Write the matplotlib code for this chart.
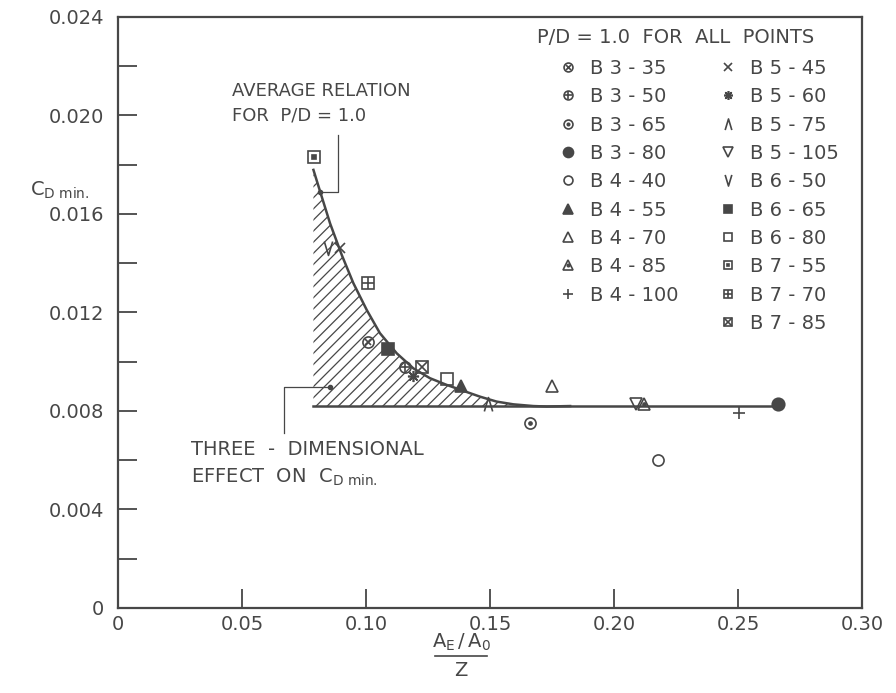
import numpy as np
import matplotlib
matplotlib.use('Agg')
import matplotlib.pyplot as plt
from matplotlib.path import Path
from matplotlib.lines import Line2D

# values (P/D = 1.0 for all points)
labels = ['B 3 - 35', 'B 3 - 50', 'B 3 - 65', 'B 3 - 80', 'B 4 - 40',
          'B 4 - 55', 'B 4 - 70', 'B 4 - 85', 'B 4 - 100',
          'B 5 - 45', 'B 5 - 60', 'B 5 - 75', 'B 5 - 105', 'B 6 - 50',
          'B 6 - 65', 'B 6 - 80', 'B 7 - 55', 'B 7 - 70', 'B 7 - 85']
ae_z = [0.1008, 0.1157, 0.1661, 0.2661, 0.2177,
        0.1383, 0.1750, 0.2121, 0.2504,
        0.0895, 0.1190, 0.1492, 0.2089, 0.0847,
        0.1089, 0.1327, 0.0790, 0.1008, 0.1226]
cd_min = [0.0108, 0.0098, 0.0075, 0.0083, 0.0060,
          0.0090, 0.0090, 0.0083, 0.0079,
          0.0146, 0.0094, 0.0083, 0.0083, 0.0146,
          0.0105, 0.0093, 0.0183, 0.0132, 0.0098]

# average relation curve
curve_x = [0.0788, 0.0815, 0.0855, 0.0902, 0.0949, 0.1003, 0.1056, 0.1124,
           0.1191, 0.1258, 0.1325, 0.1392, 0.1460, 0.1527, 0.1594, 0.1675,
           0.1729, 0.1823]
curve_y = [0.01779, 0.01691, 0.01562, 0.01434, 0.01319, 0.01210, 0.01116,
           0.01034, 0.00973, 0.00933, 0.00906, 0.00882, 0.00858, 0.00838,
           0.00827, 0.00820, 0.00818, 0.00820]
cd_2d = 0.0082
line_end = 0.2661

# leader lines for the two notes
lead_top_x = [0.0815, 0.0887, 0.0887]
lead_top_y = [0.0169, 0.0169, 0.0192]
lead_bot_x = [0.0855, 0.0669, 0.0669]
lead_bot_y = [0.00897, 0.00897, 0.00711]

ink = '#474747'
fs = 14
plt.rcParams['font.family'] = ['DejaVu Sans']
plt.rcParams['hatch.linewidth'] = 0.9

caret = Path([(-0.6, -1.0), (0.0, 1.0), (0.6, -1.0)])
vee = Path([(-0.6, 1.0), (0.0, -1.0), (0.6, 1.0)])
# marker layers: (marker, size, filled)
styles = [
    [('o', 8, False), ('x', 4.5, False)],
    [('o', 8, False), ('+', 8, False)],
    [('o', 8, False), ('o', 2.2, True)],
    [('o', 9, True)],
    [('o', 8, False)],
    [('^', 9, True)],
    [('^', 9, False)],
    [('^', 9, False), ('o', 2.2, True)],
    [('+', 9, False)],
    [('x', 7, False)],
    [((8, 2, 0), 8, False)],
    [(caret, 10, False)],
    [('v', 9, False)],
    [(vee, 10, False)],
    [('s', 8, True)],
    [('s', 8, False)],
    [('s', 8, False), ('s', 2.2, True)],
    [('s', 8, False), ('+', 8, False)],
    [('s', 8, False), ('x', 8, False)],
]

fig = plt.figure(figsize=(8.96, 6.93), dpi=100)
ax = fig.add_axes([0.1317, 0.1227, 0.8304, 0.8528])
ax.set_xlim(0, 0.30)
ax.set_ylim(0, 0.024)

for s in ax.spines.values():
    s.set_color(ink)
    s.set_linewidth(1.6)

ax.set_xticks(np.arange(0, 0.301, 0.05))
ax.set_xticklabels(['0', '0.05', '0.10', '0.15', '0.20', '0.25', '0.30'])
ax.set_yticks(np.arange(0, 0.0241, 0.004))
ax.set_yticklabels(['0', '0.004', '0.008', '0.012', '0.016', '0.020', '0.024'])
ax.set_yticks(np.arange(0.002, 0.024, 0.004), minor=True)
ax.tick_params(which='both', direction='in', length=14, width=1.3, color=ink,
               labelcolor=ink, labelsize=fs, top=False, right=False)
ax.tick_params(axis='x', pad=5)
ax.tick_params(axis='y', pad=10)

# hatched three-dimensional effect region
ax.fill_between(curve_x, cd_2d, curve_y, facecolor='none', edgecolor=ink,
                hatch='///', linewidth=0)
ax.plot(curve_x, curve_y, color=ink, lw=1.8)
ax.plot([curve_x[0], line_end], [cd_2d, cd_2d], color=ink, lw=1.8)

handles = []
for i, lab in enumerate(labels):
    parts = []
    for mk, ms, filled in styles[i]:
        kw = dict(marker=mk, ms=ms, mec=ink, mew=1.2,
                  mfc=ink if filled else 'none', ls='none')
        ax.plot([ae_z[i]], [cd_min[i]], **kw)
        parts.append(Line2D([], [], **kw))
    handles.append(tuple(parts))

# notes with leaders
ax.plot(lead_top_x, lead_top_y, color=ink, lw=0.9)
ax.plot(lead_top_x[:1], lead_top_y[:1], 'o', ms=3, color=ink)
ax.plot(lead_bot_x, lead_bot_y, color=ink, lw=0.9)
ax.plot(lead_bot_x[:1], lead_bot_y[:1], 'o', ms=3, color=ink)
ax.text(0.046, 0.0205, 'AVERAGE RELATION\nFOR  P/D = 1.0', color=ink,
        fontsize=13, ha='left', va='center', linespacing=1.5)
ax.text(0.0294, 0.00642, 'THREE  -  DIMENSIONAL', color=ink, fontsize=fs,
        ha='left', va='center')
ax.text(0.0294, 0.00532, r'EFFECT  ON  $\mathregular{C_{D\ min.}}$', color=ink,
        fontsize=fs, ha='left', va='center')

# legend: header plus two columns
ax.text(0.563, 0.966, 'P/D = 1.0  FOR  ALL  POINTS', transform=ax.transAxes,
        color=ink, fontsize=fs, ha='left', va='center')
blank = Line2D([], [], ls='none')
leg_h = handles[:9] + [blank] + handles[9:]
leg_l = labels[:9] + [''] + labels[9:]
ax.legend(leg_h, leg_l, ncol=2, loc='upper left', bbox_to_anchor=(0.592, 0.929),
          frameon=False, fontsize=fs, labelcolor=ink, handlelength=1.0,
          handletextpad=0.63, columnspacing=2.06, labelspacing=0.48,
          borderpad=0, borderaxespad=0, markerscale=0.8)

# axis titles
fig.text(30 / 896, 1 - 190 / 693, r'$\mathregular{C_{D\ min.}}$', color=ink,
         fontsize=fs, ha='left', va='center')
fig.text(461 / 896, 1 - 642 / 693, r'$\mathregular{A_E\,/\,A_0}$', color=ink,
         fontsize=fs, ha='center', va='center')
fig.add_artist(Line2D([435 / 896, 487 / 896], [1 - 656 / 693] * 2, color=ink, lw=1.2))
fig.text(461 / 896, 1 - 671 / 693, 'Z', color=ink, fontsize=fs,
         ha='center', va='center')

fig.savefig('out.png', dpi=100, facecolor='white')
